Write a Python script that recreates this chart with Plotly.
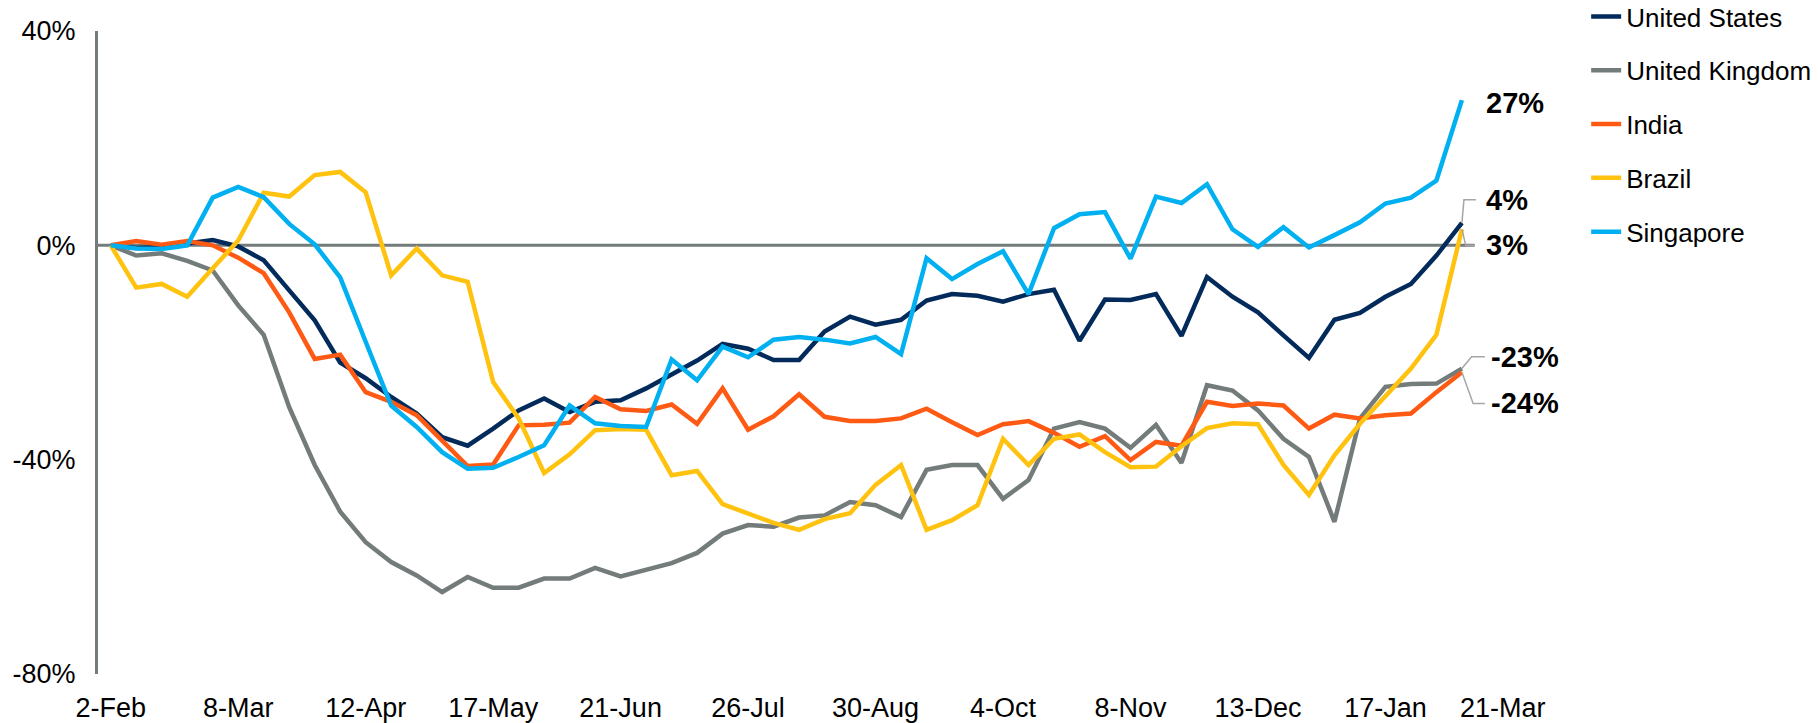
import plotly.graph_objects as go

# weekly index positions (category axis), 2-Feb-2020 onward
week_index = list(range(54))
tick_positions = [0, 5, 10, 15, 20, 25, 30, 35, 40, 45, 50, 54.6]
tick_labels = ["2-Feb", "8-Mar", "12-Apr", "17-May", "21-Jun", "26-Jul", "30-Aug",
               "4-Oct", "8-Nov", "13-Dec", "17-Jan", "21-Mar"]

united_states = [0, -0.5, -0.3, 0.4, 1.0, -0.2, -2.8, -8.4, -14.0, -21.9, -24.8, -28.3, -31.4, -35.8,
                 -37.4, -34.2, -30.8, -28.6, -31.1, -29.2, -28.9, -26.7, -24.0, -21.5, -18.4, -19.3,
                 -21.4, -21.4, -16.1, -13.3, -14.8, -13.9, -10.3, -9.1, -9.4, -10.5, -9.1, -8.3,
                 -17.8, -10.1, -10.2, -9.1, -16.9, -5.9, -9.6, -12.5, -16.8, -21.0, -13.9, -12.6,
                 -9.6, -7.2, -1.9, 4.2]
united_kingdom = [0, -1.9, -1.5, -2.9, -4.7, -11.2, -16.7, -30.2, -41.0, -49.7, -55.4, -59.1, -61.6,
                  -64.7, -61.9, -63.9, -63.9, -62.2, -62.2, -60.2, -61.8, -60.6, -59.3, -57.4, -53.8,
                  -52.2, -52.5, -50.8, -50.4, -47.9, -48.5, -50.7, -41.9, -41.0, -41.0, -47.3, -43.8,
                  -34.2, -33.0, -34.2, -37.8, -33.5, -40.6, -26.1, -27.1, -30.8, -36.1, -39.5, -51.6,
                  -32.3, -26.4, -25.9, -25.8, -23.0]
india = [0, 0.8, 0.1, 0.8, 0, -2.3, -5.2, -12.5, -21.2, -20.4, -27.4, -29.2, -31.7, -36.4, -41.2,
         -40.9, -33.6, -33.5, -33.1, -28.3, -30.6, -30.9, -29.7, -33.3, -26.7, -34.4, -31.9, -27.8,
         -32.0, -32.8, -32.8, -32.3, -30.5, -33.0, -35.4, -33.4, -32.8, -35.0, -37.6, -35.6, -40.1,
         -36.7, -37.4, -29.2, -30.0, -29.5, -29.9, -34.2, -31.6, -32.3, -31.7, -31.4, -27.4, -23.7]
brazil = [0, -7.9, -7.2, -9.6, -4.3, 0.9, 9.8, 9.1, 13.1, 13.7, 9.9, -5.6, -0.6, -5.6, -6.8, -25.5,
          -32.3, -42.5, -39.0, -34.5, -34.3, -34.4, -42.9, -42.1, -48.3, -50.1, -51.8, -53.1, -51.1,
          -50.0, -44.7, -41.0, -53.1, -51.3, -48.5, -36.1, -41.0, -36.1, -35.3, -38.6, -41.4, -41.3,
          -37.5, -34.1, -33.2, -33.4, -41.0, -46.6, -39.2, -33.3, -28.0, -23.0, -16.7, 3.0]
singapore = [0, -0.6, -0.7, 0.0, 8.9, 10.9, 9.0, 4.0, 0.2, -6.0, -18.0, -29.9, -33.9, -38.6, -41.7,
             -41.5, -39.5, -37.3, -29.9, -33.2, -33.7, -33.9, -21.3, -25.2, -18.9, -20.9, -17.6, -17.1,
             -17.6, -18.3, -17.1, -20.3, -2.4, -6.3, -3.5, -1.1, -9.1, 3.2, 5.8, 6.2, -2.5, 9.1, 7.9,
             11.4, 3.0, -0.3, 3.4, -0.4, 1.9, 4.3, 7.8, 8.9, 12.1, 27.1]

end_labels = ["4%", "-23%", "-24%", "3%", "27%"]

series = [
    ("United States", united_states, "#022A5A"),
    ("United Kingdom", united_kingdom, "#737B7B"),
    ("India", india, "#FF5A14"),
    ("Brazil", brazil, "#FFC20E"),
    ("Singapore", singapore, "#00B0F0"),
]

# label vertical offsets (in % units) and horizontal pixel shifts for end labels
label_dy = [4.3, 2.2, -5.8, -3.0, -0.5]
label_dx = [22, 27, 27, 22, 22]
leader = [  # (elbow x, end x) in category units; None = no leader
    (53.08, 53.55), (53.38, 53.9), (53.44, 53.9), (53.15, 53.5), None]

FONT = "Liberation Sans, Arial, sans-serif"
fig = go.Figure()
for name, vals, col in series:
    fig.add_trace(go.Scatter(x=week_index, y=vals, mode="lines", name=name,
                             line=dict(color=col, width=4.5), legendgroup=name))

last = len(week_index) - 1
shapes = [dict(type="line", xref="x", yref="y", x0=-0.5, x1=last + 0.5, y0=0, y1=0,
               line=dict(color="#737B7B", width=3), layer="below")]
annotations = []
for k, (name, vals, col) in enumerate(series):
    v = vals[-1]
    ly = v + label_dy[k]
    annotations.append(dict(x=last, y=ly, xref="x", yref="y", text="<b>" + end_labels[k] + "</b>",
                            showarrow=False, xanchor="left", yanchor="middle", xshift=label_dx[k],
                            font=dict(family=FONT, size=29, color="black")))
    if leader[k] is not None:
        ex, tx = leader[k]
        shapes.append(dict(type="path", xref="x", yref="y",
                           path=f"M {last},{v} L {ex},{ly} L {tx},{ly}",
                           line=dict(color="#A6A6A6", width=1.5), layer="above"))

fig.update_layout(
    width=1818, height=723,
    margin=dict(l=98, r=300, t=31, b=49, autoexpand=False),
    paper_bgcolor="white", plot_bgcolor="white",
    font=dict(family=FONT, size=27, color="black"),
    showlegend=True,
    legend=dict(x=1.048, y=1.059, xanchor="left", yanchor="top", tracegroupgap=17,
                font=dict(family=FONT, size=26, color="black"), bgcolor="rgba(0,0,0,0)"),
    shapes=shapes, annotations=annotations,
    xaxis=dict(range=[-0.5, 55.2], tickmode="array", tickvals=tick_positions, ticktext=tick_labels,
               showgrid=False, zeroline=False, showline=False, ticks="outside", ticklen=0,
               ticklabelstandoff=10, tickfont=dict(family=FONT, size=27, color="black")),
    yaxis=dict(range=[-80, 40], tickmode="array", tickvals=[-80, -40, 0, 40],
               ticktext=["-80%", "-40%", "0%", "40%"], showgrid=False, zeroline=False,
               showline=True, linecolor="#737B7B", linewidth=3, ticks="", ticklabelstandoff=14,
               tickfont=dict(family=FONT, size=27, color="black")),
)

fig.write_html("out.html", config={"displayModeBar": False},
               post_script="document.body.style.margin='0';")
